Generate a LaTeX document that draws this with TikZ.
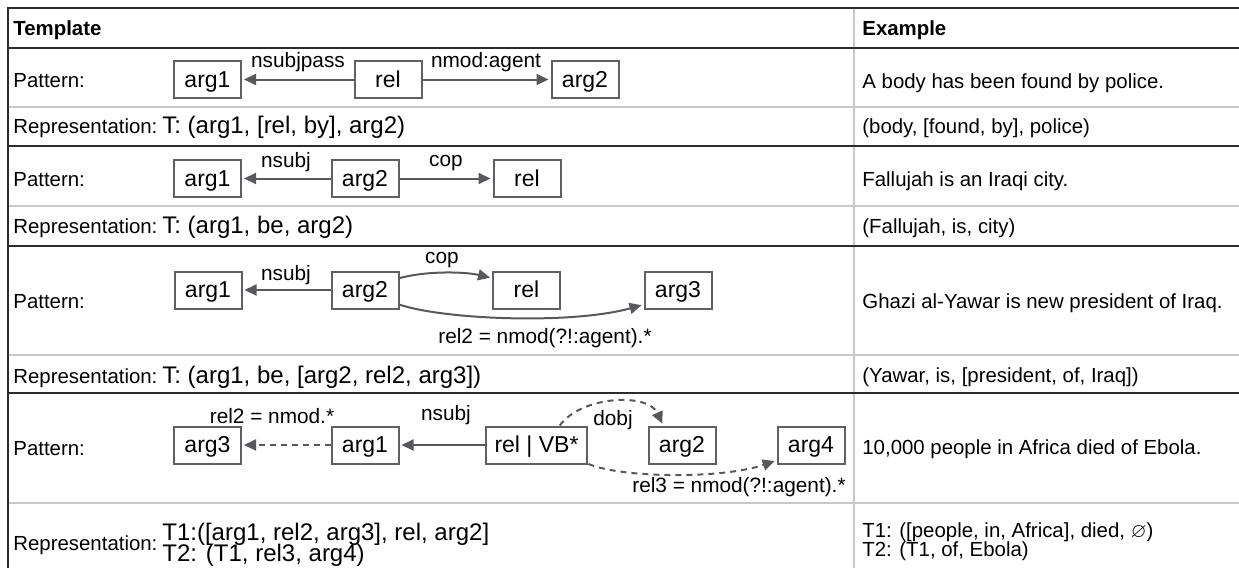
\documentclass[tikz,border=0pt]{standalone}
\usepackage{amssymb}
\usepackage{fontspec}
\setmainfont{Liberation Sans}
\usetikzlibrary{arrows.meta}

\definecolor{boxgray}{HTML}{5E6064}
\definecolor{arrowgray}{HTML}{55595F}
\definecolor{ruledark}{HTML}{2B2B2B}
\definecolor{rulelight}{HTML}{C8C8C8}

\tikzset{
  tok/.style={draw=boxgray, line width=1pt, minimum width=33.5pt, minimum height=18.5pt,
    inner xsep=4.5pt, inner ysep=0pt, text height=8.5pt, text depth=1pt,
    font=\fontsize{11.5}{13}\selectfont},
  dep/.style={arrowgray, line width=1pt, shorten >=1pt, -{Triangle[length=6pt, width=5.5pt]}},
  depdash/.style={dep, dash pattern=on 3pt off 2.5pt},
  lbl/.style={anchor=base, inner sep=0pt, font=\fontsize{10.4}{12}\selectfont},
  celltext/.style={anchor=base west, inner sep=0pt, font=\fontsize{10.2}{12}\selectfont},
  reptext/.style={anchor=base west, inner sep=0pt, font=\fontsize{12}{14}\selectfont},
  darkrule/.style={ruledark, line width=0.6pt},
  lightrule/.style={rulelight, line width=0.6pt},
}

\begin{document}
\begin{tikzpicture}[x=0.5pt, y=-0.5pt]
  \useasboundingbox (0,0) rectangle (1239,568);

  % 1. Table rules
  \draw[lightrule] (854,8) -- (854,568);
  \foreach \ry in {107,206,355,503} \draw[lightrule] (8,\ry) -- (1239,\ry);
  \draw[darkrule] (8,568) -- (8,8) -- (1239,8);
  \foreach \ry in {48,146,246,393} \draw[darkrule] (8,\ry) -- (1239,\ry);

  % 2. Header
  \node[celltext, font=\fontsize{10.2}{12}\selectfont\bfseries] (hTemplate) at (13,35) {Template};
  \node[celltext, font=\fontsize{10.2}{12}\selectfont\bfseries] (hExample) at (862,35) {Example};

  % 3. Passive pattern
  \node[celltext] (pat1) at (13,87) {Pattern:};
  \node[tok] (p1arg1) at (207.5,79.5) {arg1};
  \node[tok] (p1rel) at (388,79.5) {rel};
  \node[tok] (p1arg2) at (585,79.5) {arg2};
  \draw[dep] (p1rel) -- (p1arg1);
  \draw[dep] (p1rel) -- (p1arg2);
  \node[lbl] (l1a) at (298,67) {nsubjpass};
  \node[lbl] (l1b) at (486,67) {nmod:agent};
  \node[celltext] (ex1) at (862,88) {A body has been found by police.};

  \node[celltext] (rep1) at (13,133) {Representation:};
  \node[reptext] (t1) at (162,133) {T: (arg1, [rel, by], arg2)};
  \node[celltext] (exr1) at (862,133) {(body, [found, by], police)};

  % 4. Copula pattern
  \node[celltext] (pat2) at (13,186) {Pattern:};
  \node[tok] (p2arg1) at (207.5,178.5) {arg1};
  \node[tok] (p2arg2) at (365,178.5) {arg2};
  \node[tok] (p2rel) at (527,178.5) {rel};
  \draw[dep] (p2arg2) -- (p2arg1);
  \draw[dep] (p2arg2) -- (p2rel);
  \node[lbl] (l2a) at (286,167) {nsubj};
  \node[lbl] (l2b) at (446,166) {cop};
  \node[celltext] (ex2) at (862,186) {Fallujah is an Iraqi city.};

  \node[celltext] (rep2) at (13,233) {Representation:};
  \node[reptext] (t2) at (162,233) {T: (arg1, be, arg2)};
  \node[celltext] (exr2) at (862,233) {(Fallujah, is, city)};

  % 5. Copula with nmod
  \node[celltext] (pat3) at (13,308) {Pattern:};
  \node[tok] (p3arg1) at (208,290) {arg1};
  \node[tok] (p3arg2) at (365,290) {arg2};
  \node[tok] (p3rel) at (526.5,290) {rel};
  \node[tok] (p3arg3) at (678,290) {arg3};
  \draw[dep] (p3arg2) -- (p3arg1);
  \draw[dep] (p3arg2.19) .. controls +(30,-8) and +(-25,-6) .. (p3rel.161);
  \draw[dep] (p3arg2.-23) .. controls +(45,15) and +(-72,20) .. (p3arg3.203);
  \node[lbl] (l3a) at (286,280) {nsubj};
  \node[lbl] (l3b) at (442,263) {cop};
  \node[lbl] (l3c) at (545,343) {rel2 = nmod(?!:agent).*};
  \node[celltext] (ex3) at (862,308) {Ghazi al-Yawar is new president of Iraq.};

  \node[celltext] (rep3) at (13,383) {Representation:};
  \node[reptext] (t3) at (162,383) {T: (arg1, be, [arg2, rel2, arg3])};
  \node[celltext] (exr3) at (862,382) {(Yawar, is, [president, of, Iraq])};

  % 6. Verb pattern
  \node[celltext] (pat4) at (13,455) {Pattern:};
  \node[tok] (p4arg3) at (207.5,445) {arg3};
  \node[tok] (p4arg1) at (365,445) {arg1};
  \node[tok] (p4rel) at (536.5,445) {rel | VB*};
  \node[tok] (p4arg2) at (682,445) {arg2};
  \node[tok] (p4arg4) at (811,445) {arg4};
  \draw[depdash] (p4arg1) -- (p4arg3);
  \draw[dep] (p4rel) -- (p4arg1);
  \draw[depdash] (p4rel.40) .. controls +(22,-30) and +(-15,-33) .. (p4arg2.134);
  \draw[depdash] (p4rel.-20) .. controls +(32,14) and +(-55,19) .. (p4arg4.204);
  \node[lbl] (l4a) at (272,423) {rel2 = nmod.*};
  \node[lbl] (l4b) at (446,420) {nsubj};
  \node[lbl] (l4c) at (613,425) {dobj};
  \node[lbl] (l4d) at (739,492) {rel3 = nmod(?!:agent).*};
  \node[celltext] (ex4) at (862,454) {10,000 people in Africa died of Ebola.};

  \node[celltext] (rep4) at (13,550) {Representation:};
  \node[reptext] (t4a) at (162,540) {T1:([arg1, rel2, arg3], rel, arg2]};
  \node[reptext] (t4b) at (162,561) {T2: (T1, rel3, arg4)};
  \node[celltext] (exr4a) at (862,537) {T1: ([people, in, Africa], died, $\varnothing$)};
  \node[celltext] (exr4b) at (862,556) {T2: (T1, of, Ebola)};
\end{tikzpicture}
\end{document}
